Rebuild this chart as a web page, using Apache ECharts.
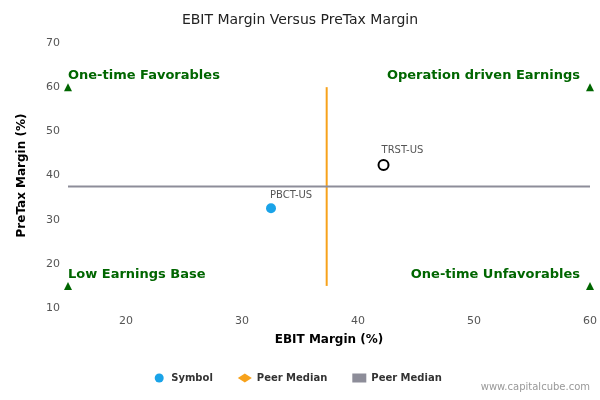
<!DOCTYPE html>
<html>
<head>
<meta charset="utf-8">
<script src="https://cdn.jsdelivr.net/npm/echarts@6/dist/echarts.min.js"></script>
<style>html,body{margin:0;padding:0;background:#fff}#chart{width:600px;height:400px}</style>
</head>
<body>
<div id="chart"></div>
<script>
var symbols = [['PBCT-US', 32.5, 32.6]];
var peers = [['TRST-US', 42.2, 42.4]];
var medianX = 37.3;
var medianY = 37.5;
var corners = [[15, 60, 'One-time Favorables', 'left'], [60, 60, 'Operation driven Earnings', 'right'],
               [15, 15, 'Low Earnings Base', 'left'], [60, 15, 'One-time Unfavorables', 'right']];

var chart = echarts.init(document.getElementById('chart'));
var font = 'DejaVu Sans';
chart.setOption({
    textStyle: { fontFamily: font },
    title: { text: 'EBIT Margin Versus PreTax Margin', left: 'center', top: 8,
        textStyle: { fontSize: 14, fontWeight: 'normal', color: '#222', fontFamily: font } },
    graphic: [{ type: 'text', right: 10, bottom: 8,
        style: { text: 'www.capitalcube.com', fill: '#999', fontSize: 10, fontFamily: font } }],
    grid: { left: 68, right: 10, top: 43, bottom: 92 },
    xAxis: { type: 'value', min: 15, max: 60, interval: 5,
        name: 'EBIT Margin (%)', nameLocation: 'middle', nameGap: 26,
        nameTextStyle: { fontWeight: 'bold', fontSize: 12, color: '#000' },
        axisLine: { show: false },
        axisTick: { show: false },
        axisLabel: { color: '#555', fontSize: 11, formatter: function (v) { return v % 10 === 0 ? v : ''; } },
        splitLine: { show: false } },
    yAxis: { type: 'value', min: 10, max: 70, interval: 10,
        name: 'PreTax Margin (%)', nameLocation: 'middle', nameGap: 40,
        nameTextStyle: { fontWeight: 'bold', fontSize: 12, color: '#000' },
        axisLine: { show: false }, axisTick: { show: false },
        axisLabel: { color: '#555', fontSize: 11 },
        splitLine: { show: false } },
    legend: { bottom: 12, itemGap: 25, itemWidth: 14, itemHeight: 9,
        textStyle: { fontSize: 10, fontWeight: 'bold', color: '#333' },
        data: [{ name: 'Symbol', icon: 'circle' },
               { name: 'Peer Median', icon: 'diamond', itemStyle: { color: '#f7a21b' } },
               { name: 'Peer Median ', icon: 'rect', itemStyle: { color: '#8d8d99' } }] },
    series: [
        { name: 'Symbol', type: 'scatter', symbolSize: 10, itemStyle: { color: '#1aa3e8', opacity: 1 },
          data: symbols.map(function (d) { return [d[1], d[2], d[0]]; }),
          label: { show: true, position: [4, -13], formatter: function (p) { return p.data[2]; }, color: '#555', fontSize: 10 } },
        { name: 'Peers', type: 'scatter', symbolSize: 10,
          itemStyle: { color: '#fff', borderColor: '#000', borderWidth: 2, opacity: 1 },
          data: peers.map(function (d) { return [d[1], d[2], d[0]]; }),
          label: { show: true, position: [4, -13], formatter: function (p) { return p.data[2]; }, color: '#555', fontSize: 10 } },
        { name: 'Peer Median', type: 'line', symbol: 'none', lineStyle: { color: '#f7a21b', width: 2 },
          itemStyle: { color: '#f7a21b' }, data: [[medianX, 15], [medianX, 60]] },
        { name: 'Peer Median ', type: 'line', symbol: 'none', lineStyle: { color: '#8d8d99', width: 2 },
          itemStyle: { color: '#8d8d99' }, data: [[15, medianY], [60, medianY]] },
        { name: 'Quadrants', type: 'scatter', symbol: 'triangle', symbolSize: 8,
          itemStyle: { color: '#006600', opacity: 1 },
          data: corners.map(function (c) {
              return { value: [c[0], c[1]],
                  label: { show: true, position: c[3] === 'left' ? [4, -14] : [-6, -14],
                      align: c[3], formatter: c[2], color: '#006600', fontWeight: 'bold', fontSize: 13 } };
          }) }
    ]
});
</script>
</body>
</html>
